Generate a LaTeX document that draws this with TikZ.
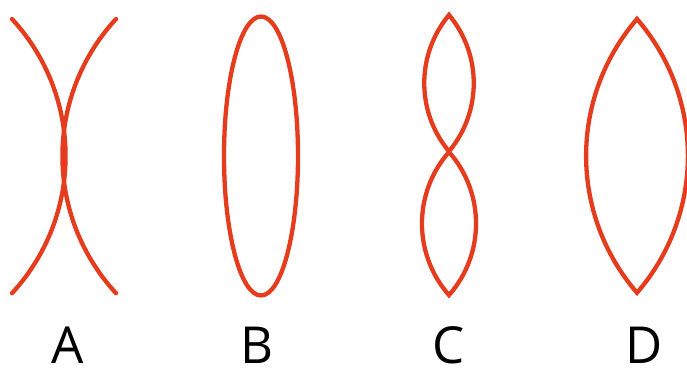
\documentclass[tikz,border=0pt]{standalone}
\usepackage{fontspec}
\setmainfont{Open Sans}
\definecolor{lensred}{HTML}{E63C1E}
\begin{document}
\begin{tikzpicture}[x=1pt,y=1pt,
  curve/.style={draw=lensred,line width=4.3pt,line cap=round},
  lbl/.style={anchor=base,inner sep=0pt,font=\fontsize{51}{51}\selectfont}]
\useasboundingbox (0,0) rectangle (687,371);
% A: two arcs
\draw[curve] (12,352) arc[start angle=42.7,end angle=-42.7,radius=202.2];
\draw[curve] (116,352) arc[start angle=137.3,end angle=222.7,radius=202.2];
% B: ellipse
\draw[curve] (261,215) ellipse[x radius=37,y radius=139.5];
% C: two lenses
\draw[curve] (449,356) arc[start angle=140.1,end angle=219.9,radius=106.3]
  arc[start angle=-39.9,end angle=39.9,radius=106.3] -- cycle;
\draw[curve] (449,219) arc[start angle=138.6,end angle=221.4,radius=108.2]
  arc[start angle=-41.4,end angle=41.4,radius=108.2] -- cycle;
% D: lens
\draw[curve] (637,352) arc[start angle=139.2,end angle=220.8,radius=209.5]
  arc[start angle=-40.8,end angle=40.8,radius=209.5] -- cycle;
% labels
\node[lbl] (la) at (68,7) {A};
\node[lbl] (lb) at (257,7) {B};
\node[lbl] (lc) at (449,7) {C};
\node[lbl] (ld) at (644,7) {D};
\end{tikzpicture}
\end{document}
